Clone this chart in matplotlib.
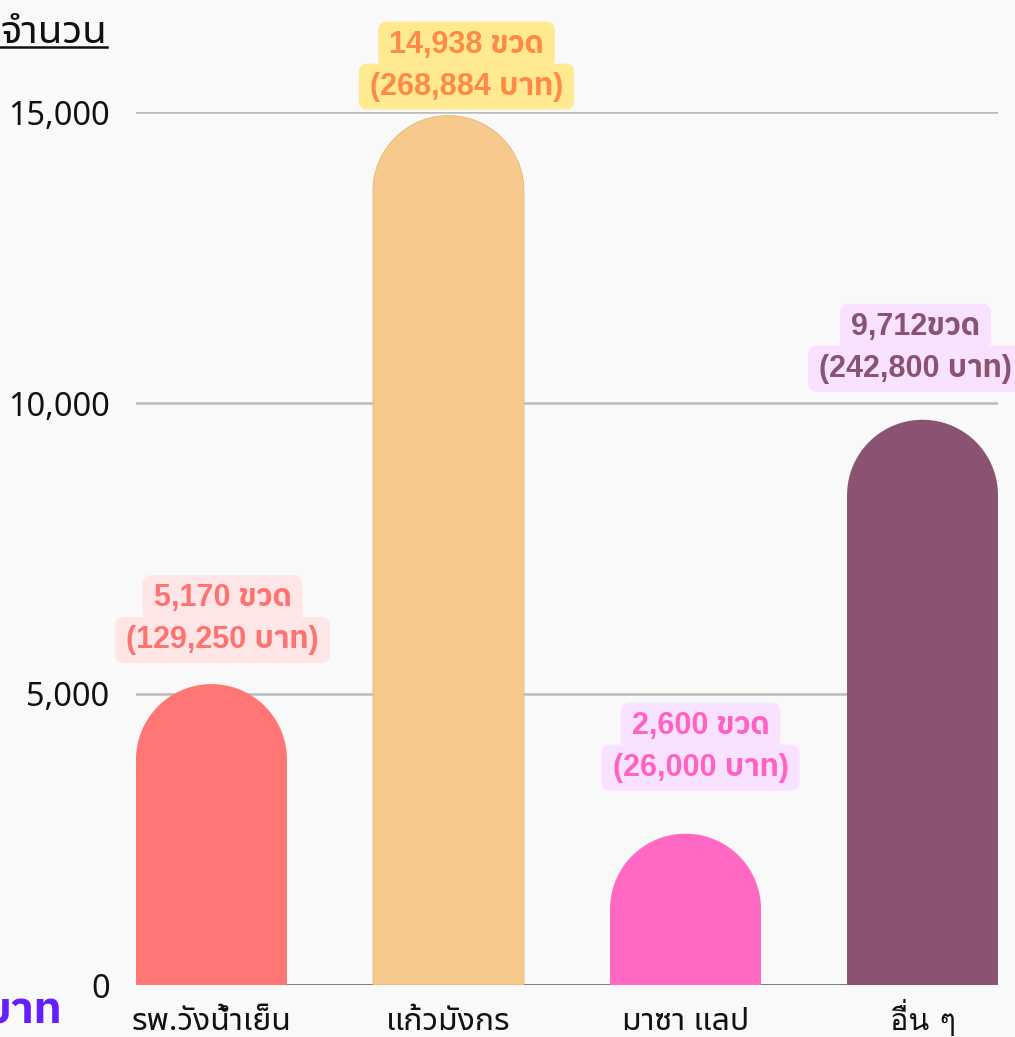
import numpy as np
import matplotlib
matplotlib.use("Agg")
import matplotlib.pyplot as plt
from matplotlib.patches import Polygon, FancyBboxPatch
from matplotlib.lines import Line2D
from matplotlib.transforms import IdentityTransform
from matplotlib.ticker import FuncFormatter

# ---------------- data ----------------
categories = ["รพ.วังน้ำเย็น", "แก้วมังกร", "มาซา แลป", "อื่น ๆ"]
bottles = [5170, 14938, 2600, 9712]
baht = [129250, 268884, 26000, 242800]
unit_sep = [" ", " ", " ", ""]          # the last label has no space in the original
yticks = [0, 5000, 10000, 15000]
y_title = "จำนวน"
unit_title = "บาท"

# ---------------- style ----------------
W, H = 1015, 1037
BG = "#f9f9f9"
bar_colors = ["#ff7675", "#f7c98c", "#ff69c4", "#8b5372"]
label_text_colors = ["#ff7272", "#ff8a45", "#ff62c2", "#8b5372"]
label_bg_colors = ["#ffe6e6", "#ffe991", "#f8e2ff", "#f8e2ff"]
label_dx_px = [11, 18, 15, -7]          # horizontal shift of label vs bar centre
label_dy_px = [44, 29, 66, 51]          # line-2 centre above bar top
line_gap_px = 42

tick_font = ["Noto Sans", "Noto Sans Thai UI", "DejaVu Sans"]
# fonts without mark positioning hide the tone mark above a vowel; Loma keeps it visible
mark_font = ["Loma", "Noto Sans Thai UI", "DejaVu Sans"]
label_font = ["Liberation Sans", "IBM Plex Sans Thai", "DejaVu Sans"]

fig = plt.figure(figsize=(W / 100, H / 100), dpi=100, facecolor=BG)
ax = fig.add_axes([136 / W, 1 - 985 / H, 862 / W, 873 / H])
ax.set_facecolor(BG)

bw = 0.637
xs = np.arange(len(categories))
ax.set_xlim(-bw / 2, len(categories) - 1 + bw / 2)
ax.set_ylim(0, 15000)
ax.set_yticks(yticks)
ax.yaxis.set_major_formatter(FuncFormatter(lambda v, p: f"{v:,.0f}"))
ax.set_xticks(xs)
ax.set_xticklabels(categories)
ax.grid(axis="y", color="#bbbbbb", lw=1.8, zorder=0)
ax.grid(axis="x", visible=False)
ax.set_axisbelow(True)
for s in ax.spines.values():
    s.set_visible(False)
ax.tick_params(axis="both", length=0)
ax.tick_params(axis="y", pad=19, labelsize=23.4)
ax.tick_params(axis="x", pad=32.5, labelsize=23)
for lab in ax.get_yticklabels():
    lab.set_family(tick_font)
    lab.set_color("#111111")
for lab in ax.get_xticklabels():
    txt = lab.get_text()
    has_stack = "\u0e37\u0e48" in txt
    lab.set_family(mark_font if has_stack else tick_font)
    if has_stack:
        lab.set_fontsize(22)
    lab.set_verticalalignment("baseline")
    lab.set_color("#111111")
ax.axhline(0, color="#666666", lw=1.8, zorder=1)

# rounded-top bars (semicircular caps in screen space)
ax_w_px = 862
ax_h_px = 873
px_per_x = ax_w_px / (ax.get_xlim()[1] - ax.get_xlim()[0])
px_per_y = ax_h_px / (ax.get_ylim()[1] - ax.get_ylim()[0])
ry = (bw / 2) * px_per_x / px_per_y
theta = np.linspace(np.pi, 0, 80)
for xi, v, c in zip(xs, bottles, bar_colors):
    cap_x = xi + (bw / 2) * np.cos(theta)
    cap_y = (v - ry) + ry * np.sin(theta)
    pts = [(xi - bw / 2, 0)] + list(zip(cap_x, cap_y)) + [(xi + bw / 2, 0)]
    ec = "#e7b67c" if c == "#f7c98c" else "none"
    ax.add_patch(Polygon(pts, closed=True, fc=c, ec=ec, lw=0.6, zorder=2))

# value labels
pt = 72 / 100
texts = []
for i, (v, b, sep) in enumerate(zip(bottles, baht, unit_sep)):
    l1 = f"{v:,}{sep}ขวด"
    l2 = f"({b:,} บาท)"
    kw = dict(xy=(xs[i], v), textcoords="offset points", ha="center", va="center",
              fontsize=22, fontweight="bold", color=label_text_colors[i],
              family=label_font, zorder=6, annotation_clip=False)
    t2 = ax.annotate(l2, xytext=(label_dx_px[i] * pt, label_dy_px[i] * pt), **kw)
    t1 = ax.annotate(l1, xytext=(label_dx_px[i] * pt, (label_dy_px[i] + line_gap_px) * pt), **kw)
    texts.append((t1, label_bg_colors[i]))
    texts.append((t2, label_bg_colors[i]))

# axis titles
yt = fig.text(0, 1 - 43 / H, y_title, ha="left", va="baseline", fontsize=29,
              family=tick_font, color="#111111")
fig.text(62 / W, 1 - 1024 / H, unit_title, ha="right", va="baseline", fontsize=32,
         fontweight="bold", family=["IBM Plex Sans Thai", "DejaVu Sans"], color="#651fff")

fig.canvas.draw()
r = fig.canvas.get_renderer()
hp, vp = 11, 8
for t, bgc in texts:
    bb = t.get_window_extent(r)
    p = FancyBboxPatch((bb.x0 - hp, bb.y0 - vp), bb.width + 2 * hp, bb.height + 2 * vp,
                       boxstyle="round,pad=0,rounding_size=9", transform=IdentityTransform(),
                       fc=bgc, ec="none", zorder=5, clip_on=False)
    ax.add_patch(p)

bb = yt.get_window_extent(r)
ul_y = H - 47
fig.add_artist(Line2D([bb.x0, bb.x1], [ul_y, ul_y], transform=IdentityTransform(),
                      color="#111111", lw=1.8))

fig.savefig("out.png", dpi=100, facecolor=BG)
